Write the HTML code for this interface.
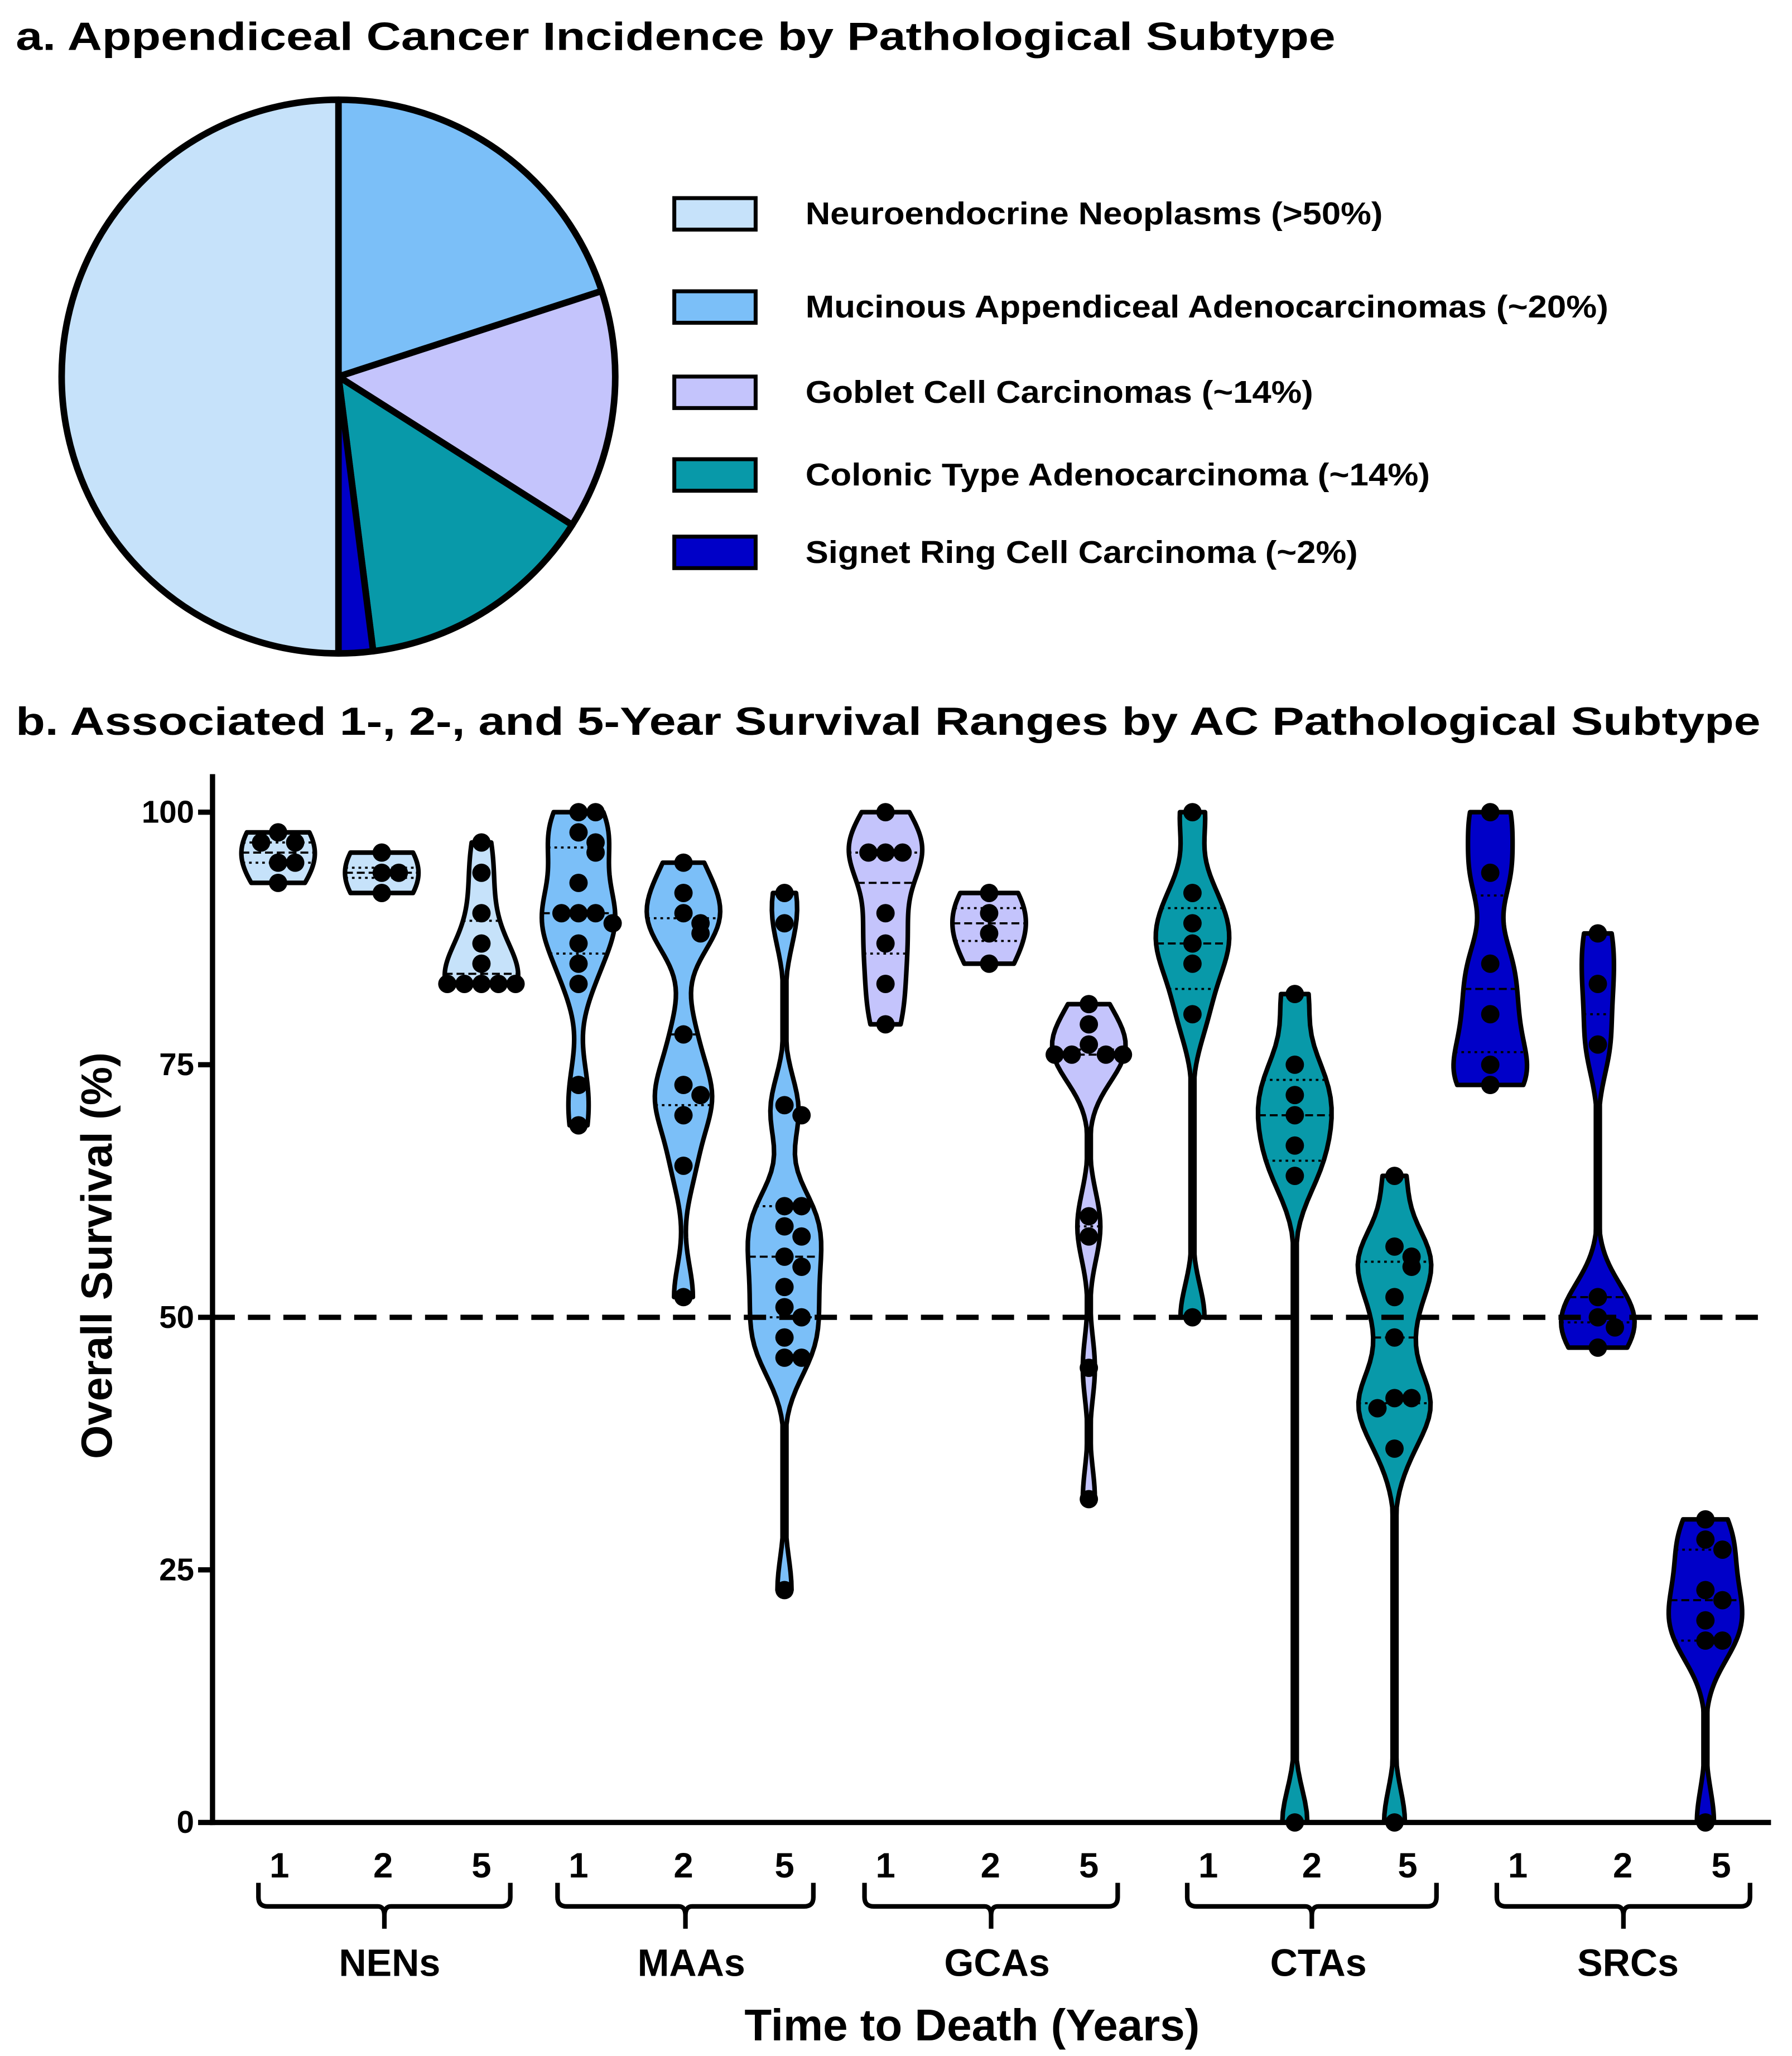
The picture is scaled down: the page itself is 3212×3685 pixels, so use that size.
<!DOCTYPE html>
<html><head><meta charset="utf-8"><style>
html,body{margin:0;padding:0;background:#fff}
svg{display:block;font-family:"Liberation Sans",Arial,sans-serif;font-weight:bold}
</style></head><body>
<svg id="fig" xmlns="http://www.w3.org/2000/svg" width="3212" height="3685" viewBox="0 0 1366 1567" preserveAspectRatio="none">
<rect width="1366" height="1567" fill="#fff"/>
<text x="12" y="38" font-size="30" textLength="1006" lengthAdjust="spacingAndGlyphs">a. Appendiceal Cancer Incidence by Pathological Subtype</text>
<g id="pie"></g>
<g id="legend"></g>
<text x="12" y="560" font-size="30" textLength="1330" lengthAdjust="spacingAndGlyphs">b. Associated 1-, 2-, and 5-Year Survival Ranges by AC Pathological Subtype</text>
<g id="plot"></g>
</svg>
<script>
const NS="http://www.w3.org/2000/svg";
function mk(tag,attrs,parent){const e=document.createElementNS(NS,tag);for(const k in attrs)e.setAttribute(k,attrs[k]);parent.appendChild(e);return e;}

// ---------- Pie data ----------
const pieLabels=["Neuroendocrine Neoplasms (>50%)","Mucinous Appendiceal Adenocarcinomas (~20%)","Goblet Cell Carcinomas (~14%)","Colonic Type Adenocarcinoma (~14%)","Signet Ring Cell Carcinoma (~2%)"];
const pieValues=[50,20,14,14,2];
const pieColors=["#c6e2fa","#7bbff8","#c4c4fc","#0899a9","#0000c8"];

const pie=document.getElementById('pie');
const cx=258,cy=287,R=211;
const order=[1,2,3,4,0];
let acc=0;const tot=pieValues.reduce((a,b)=>a+b,0);
order.forEach(i=>{
  const a0=acc/tot*2*Math.PI; acc+=pieValues[i]; const a1=acc/tot*2*Math.PI;
  const p=(a)=>[cx+R*Math.sin(a),cy-R*Math.cos(a)];
  const [x0,y0]=p(a0),[x1,y1]=p(a1);
  const large=(a1-a0)>Math.PI?1:0;
  const s=mk('path',{d:`M${cx},${cy} L${x0},${y0} A${R},${R} 0 ${large} 1 ${x1},${y1} Z`,fill:pieColors[i],stroke:'#000','stroke-width':5,'stroke-linejoin':'round'},pie);
  
  
});
const legY=[163,234,299,362,421];
const legW=[440,612,387,476,421];
const leg=document.getElementById('legend');
pieLabels.forEach((l,i)=>{
  const r=mk('rect',{x:514,y:legY[i]-12,width:62,height:24,fill:pieColors[i],stroke:'#000','stroke-width':3},leg);
  
  
  const t=mk('text',{x:614,y:legY[i]+8,'font-size':24,textLength:legW[i],lengthAdjust:'spacingAndGlyphs'},leg);t.textContent=l;
  
  
});

// ---------- Violin data ----------
const groups=["NENs","MAAs","GCAs","CTAs","SRCs"];
const years=["1","2","5"];
const groupColors=["#c6e2fa","#7bbff8","#c4c4fc","#0899a9","#0000c8"];
const NEN1=[98,97,97,95,95,93];
const NEN2=[96,94,94,92];
const NEN5=[97,94,90,87,85,83,83,83,83,83];
const MAA1=[100,100,98,97,96,93,90,90,90,89,87,85,83,73,69];
const MAA2=[95,92,90,89,88,78,73,72,70,65,52];
const MAA5=[92,89,71,70,61,61,59,58,56,55,53,51,50,48,46,46,23];
const GCA1=[100,96,96,96,90,87,83,79];
const GCA2=[92,90,88,85];
const GCA5=[81,79,77,76,76,76,76,60,58,45,32];
const CTA1=[100,92,89,87,85,80,50];
const CTA2=[82,75,72,70,67,64,0];
const CTA5=[64,57,56,55,52,48,42,42,41,37,0];
const SRC1=[100,94,85,80,75,73];
const SRC2=[88,83,77,52,50,49,47];
const SRC5=[30,28,27,23,22,20,18,18,0];
const series=[[NEN1,NEN2,NEN5],[MAA1,MAA2,MAA5],[GCA1,GCA2,GCA5],[CTA1,CTA2,CTA5],[SRC1,SRC2,SRC5]];
const yTicks=[0,25,50,75,100];
const refLine=50;

const X0=162,X1=1350,Y0=1389,Y100=619;
const yS=v=>Y0-(v/100)*(Y0-Y100);
const catX=[[212,291,367],[441,521,598],[675,754,830],[909,987,1063],[1136,1218,1300]];
const labX=[[213,292,367],[441,521,598],[675,755,830],[921,1000,1073],[1157,1237,1312]];
const grpLabX=[297,527,760,1005,1241];

const plot=document.getElementById('plot');
function quant(a,q){const s=[...a].sort((x,y)=>x-y);const p=(s.length-1)*q;const lo=Math.floor(p),hi=Math.ceil(p);return s[lo]+(s[hi]-s[lo])*(p-lo);}
series.forEach((gs,g)=>gs.forEach((vals,k)=>{
  const xc=catX[g][k];
  const mn=Math.min(...vals),mx=Math.max(...vals);
  const h=3.2;
  const dens=v=>vals.reduce((s,x)=>s+Math.exp(-0.5*((v-x)/h)**2),0);
  const N=80;const pts=[];let dmax=0;
  for(let i=0;i<=N;i++){const v=mn+(mx-mn)*i/N;const d=dens(v);pts.push([v,d]);if(d>dmax)dmax=d;}
  const W=28;
  const w=d=>Math.max(1.5,d/dmax*W);
  let d='M'+pts.map(([v,dd])=>`${xc+w(dd)},${yS(v)}`).join(' L');
  d+=' L'+pts.slice().reverse().map(([v,dd])=>`${xc-w(dd)},${yS(v)}`).join(' L')+' Z';
  const vp=mk('path',{d:d,fill:groupColors[g],stroke:'#000','stroke-width':3.5,'stroke-linejoin':'round'},plot);
  
  
  [[0.25,'2,3'],[0.5,'6,3'],[0.75,'2,3']].forEach(([q,da])=>{
    const v=quant(vals,q);const hw=w(dens(v));
    const l=mk('line',{x1:xc-hw,x2:xc+hw,y1:yS(v),y2:yS(v),stroke:'#000','stroke-width':1.6,'stroke-dasharray':da},plot);
    
    
  });
  const used=[];
  vals.forEach(v=>{
    const near=used.filter(u=>Math.abs(u-v)<1.6).length;
    used.push(v);
    const off=near===0?0:(near%2?1:-1)*Math.ceil(near/2)*13;
    const c=mk('circle',{cx:xc+off,cy:yS(v),r:7,fill:'#000'},plot);
    
    
  });
}));
const rl=mk('line',{x1:X0,x2:X1,y1:yS(refLine),y2:yS(refLine),stroke:'#000','stroke-width':4,'stroke-dasharray':'17,10'},plot);


const ya=mk('line',{x1:X0,x2:X0,y1:590,y2:Y0+2,stroke:'#000','stroke-width':4},plot);


const xa=mk('line',{x1:X0-2,x2:X1,y1:Y0,y2:Y0,stroke:'#000','stroke-width':4},plot);


yTicks.forEach(t=>{
  const tl=mk('line',{x1:X0-11,x2:X0,y1:yS(t),y2:yS(t),stroke:'#000','stroke-width':4},plot);
  
  
  const tx=mk('text',{x:X0-14,y:yS(t)+8,'font-size':24,'text-anchor':'end'},plot);tx.textContent=t;
  
  
});
const yt=mk('text',{x:0,y:0,'font-size':33,'text-anchor':'middle',transform:'translate(85,957) rotate(-90)'},plot);
yt.textContent='Overall Survival (%)';


groups.forEach((gn,g)=>{
  years.forEach((yr,k)=>{
    const t=mk('text',{x:labX[g][k],y:1431,'font-size':27,'text-anchor':'middle'},plot);t.textContent=yr;
    
    
  });
  const a=labX[g][0]-16,b=labX[g][2]+22,m=(a+b)/2;
  const br=mk('path',{d:`M${a},1435 L${a},1446 Q${a},1453 ${a+7},1453 L${m-5},1453 Q${m},1453 ${m},1460 L${m},1470 M${m},1460 Q${m},1453 ${m+5},1453 L${b-7},1453 Q${b},1453 ${b},1446 L${b},1435`,fill:'none',stroke:'#000','stroke-width':3.5},plot);
  
  
  const gl=mk('text',{x:grpLabX[g],y:1506,'font-size':29,'text-anchor':'middle'},plot);gl.textContent=gn;
  
  
});
const xt=mk('text',{x:741,y:1555,'font-size':34,'text-anchor':'middle'},plot);
xt.textContent='Time to Death (Years)';


</script>
</body></html>
